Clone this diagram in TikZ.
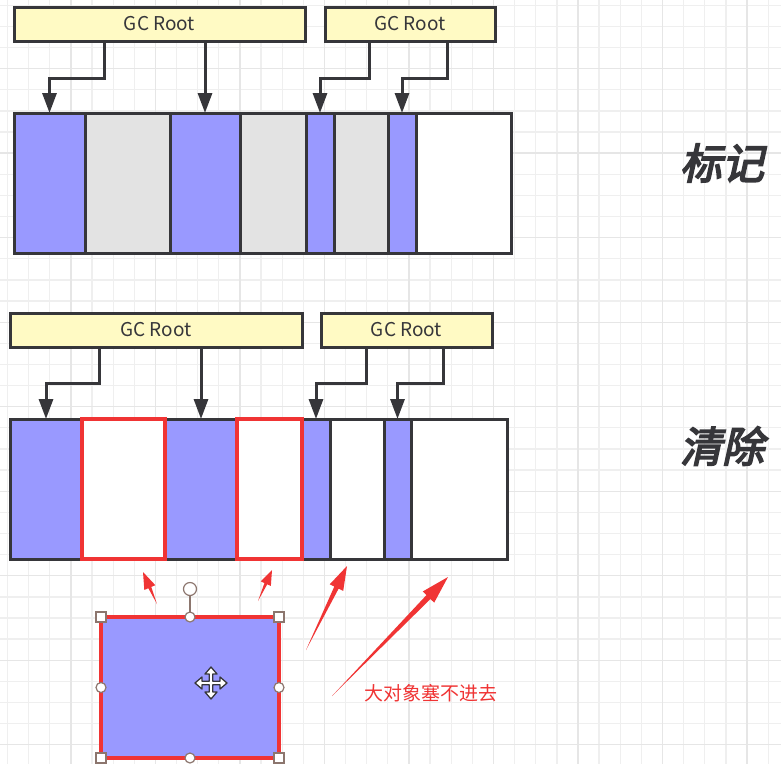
\documentclass[tikz,border=0pt]{standalone}
\usepackage{xcolor}
\usepackage{fontspec}
\setmainfont{Noto Sans CJK SC}
\newfontfamily\tagfont[FakeBold=4,FakeSlant=0.22]{Noto Sans CJK SC}
\usepackage{tikz}
\usetikzlibrary{arrows.meta, calc}

\definecolor{cellblue}{RGB}{153,153,255}
\definecolor{cellgrey}{RGB}{227,227,227}
\definecolor{rootyellow}{RGB}{255,250,196}
\definecolor{inkgrey}{RGB}{54,54,58}
\definecolor{markred}{RGB}{240,52,52}
\definecolor{gridminor}{RGB}{239,239,239}
\definecolor{gridmajor}{RGB}{230,230,230}
\definecolor{handlebrown}{RGB}{140,118,110}

% hand drawn red arrow: tail, tip, head length, head half width, shaft half width
\newcommand{\redarrow}[5]{%
	\coordinate (neck) at ($(#2)!#3!(#1)$);
	\fill[markred] (#1) --
		($(neck)!#5!90:(#2)$) --
		($(neck)!#4!90:(#2)$) --
		(#2) --
		($(neck)!#4!-90:(#2)$) --
		($(neck)!#5!-90:(#2)$) -- cycle;
}

\begin{document}
\begin{tikzpicture}[x=1pt, y=-1pt]
			\tikzstyle{every node} = [font = \fontsize{19}{22}\selectfont, inner sep = 0pt, outer sep = 0pt]
			\tikzstyle{gridline} = [gridminor, line width = 1.3pt]
			\tikzstyle{gridbold} = [gridmajor, line width = 1.3pt]
			\tikzstyle{cell} = [draw = inkgrey, line width = 3pt, rectangle, minimum height = 140pt, anchor = north west]
			\tikzstyle{livecell} = [fill = cellblue]
			\tikzstyle{deadcell} = [fill = cellgrey]
			\tikzstyle{freecell} = [fill = white]
			\tikzstyle{redframe} = [draw = markred, line width = 3.2pt]
			\tikzstyle{root} = [draw = inkgrey, line width = 3pt, fill = rootyellow, text = inkgrey, minimum height = 34pt, anchor = north west]
			\tikzstyle{ptr} = [draw = inkgrey, line width = 3pt, -{Triangle[width = 14pt, length = 20pt]}]
			\tikzstyle{tag} = [font = \tagfont\fontsize{42}{48}\selectfont, text = inkgrey]
			\tikzstyle{note} = [font = \fontsize{19}{22}\selectfont, text = markred]
			\tikzstyle{sqhandle} = [draw = handlebrown, fill = white, line width = 1.2pt, minimum size = 10pt]
			\tikzstyle{rdhandle} = [draw = handlebrown, fill = white, line width = 1.2pt, circle, minimum size = 10pt]
				\useasboundingbox[fill = white] (0,0) rectangle (781,764);
				% background grid
				\foreach \k in {0,...,36} {
					\pgfmathsetmacro{\gx}{7.5+21.13*\k}
					\draw[gridline] (\gx,0) -- (\gx,764);
				}
				\foreach \k in {0,...,35} {
					\pgfmathsetmacro{\gy}{5.2+21.13*\k}
					\draw[gridline] (0,\gy) -- (781,\gy);
				}
				\foreach \k in {3,7,...,35} {
					\pgfmathsetmacro{\gx}{7.5+21.13*\k}
					\pgfmathsetmacro{\gy}{5.2+21.13*\k}
					\draw[gridbold] (\gx,0) -- (\gx,764);
					\draw[gridbold] (0,\gy) -- (781,\gy);
				}
				% marking phase
				\node[root, minimum width = 291pt] (mroot1) at (14,7) {GC Root};
				\node[root, minimum width = 170pt] (mroot2) at (325,7) {GC Root};
				\foreach \name/\cx/\w/\kind in {m1/14/71/livecell, m2/85/85/deadcell, m3/170/70/livecell,
						m4/240/66/deadcell, m5/306/28/livecell, m6/334/54/deadcell, m7/388/28/livecell, m8/416/95/freecell}
					\node[cell, \kind, minimum width = \w pt] (\name) at (\cx,113) {};
				\path[ptr] ($(mroot1.south west)+(90,0)$) -- ++(0,37) -| (m1.north);
				\path[ptr] (mroot1.south -| m3.north) -- (m3.north);
				\path[ptr] ($(mroot2.south west)+(44,0)$) -- ++(0,37) -| (m5.north);
				\path[ptr] ($(mroot2.south west)+(122,0)$) -- ++(0,37) -| (m7.north);
				\node[tag] (marktag) at (722,163) {标记};
				% sweeping phase
				\node[root, minimum width = 292pt] (sroot1) at (10,313) {GC Root};
				\node[root, minimum width = 171pt] (sroot2) at (321,313) {GC Root};
				\foreach \name/\cx/\w/\kind in {s1/10/72/livecell, s2/82/83/freecell, s3/165/72/livecell,
						s4/237/65/freecell, s5/302/28/livecell, s6/330/54/freecell, s7/384/27/livecell, s8/411/96/freecell}
					\node[cell, \kind, minimum width = \w pt] (\name) at (\cx,419) {};
				\foreach \name in {s2, s4}
					\draw[redframe] (\name.north west) rectangle (\name.south east);
				\path[ptr] ($(sroot1.south west)+(89,0)$) -- ++(0,36) -| (s1.north);
				\path[ptr] (sroot1.south -| s3.north) -- (s3.north);
				\path[ptr] ($(sroot2.south west)+(45,0)$) -- ++(0,36) -| (s5.north);
				\path[ptr] ($(sroot2.south west)+(122,0)$) -- ++(0,36) -| (s7.north);
				\node[tag] (sweeptag) at (722,446) {清除};
				% the big object, still selected
				\node[draw = markred, fill = cellblue, line width = 3.2pt, minimum width = 178pt, minimum height = 141pt, anchor = north west] (big) at (101,617) {};
				\node[rdhandle, minimum size = 13pt] (rot) at ($(big.north)+(0,-28)$) {};
				\draw[handlebrown, line width = 1.2pt] (rot.south) -- (big.north);
				\foreach \a/\i in {north west/1, north east/2, south west/3, south east/4}
					\node[sqhandle] (corner\i) at (big.\a) {};
				\foreach \a/\i in {north/1, west/2, east/3, south/4}
					\node[rdhandle] (edge\i) at (big.\a) {};
				\coordinate (move) at (211,683);
				\draw[fill = white, draw = inkgrey, line width = 1.3pt, line join = round, shift = {(move)}]
					(0,-16) -- (6,-9) -- (1.8,-9) -- (1.8,-1.8) -- (9,-1.8) -- (9,-6) -- (16,0) -- (9,6) -- (9,1.8) -- (1.8,1.8) --
					(1.8,9) -- (6,9) -- (0,16) -- (-6,9) -- (-1.8,9) -- (-1.8,1.8) -- (-9,1.8) -- (-9,6) -- (-16,0) -- (-9,-6) --
					(-9,-1.8) -- (-1.8,-1.8) -- (-1.8,-9) -- (-6,-9) -- cycle;
				% red arrows
				\coordinate (tail1) at (157,604);
				\coordinate (tip1) at (143,572);
				\coordinate (tail2) at (258,601);
				\coordinate (tip2) at (272,570);
				\coordinate (tail3) at (306,650);
				\coordinate (tip3) at (347,566);
				\coordinate (tail4) at (332,696);
				\coordinate (tip4) at (448,577);
				\redarrow{tail1}{tip1}{17pt}{6pt}{1.6pt}
				\redarrow{tail2}{tip2}{15pt}{5.5pt}{1.5pt}
				\redarrow{tail3}{tip3}{24pt}{7.5pt}{2.4pt}
				\redarrow{tail4}{tip4}{28pt}{8pt}{2.8pt}
				\node[note, anchor = west] (bignote) at (364,693) {大对象塞不进去};
\end{tikzpicture}
\end{document}
